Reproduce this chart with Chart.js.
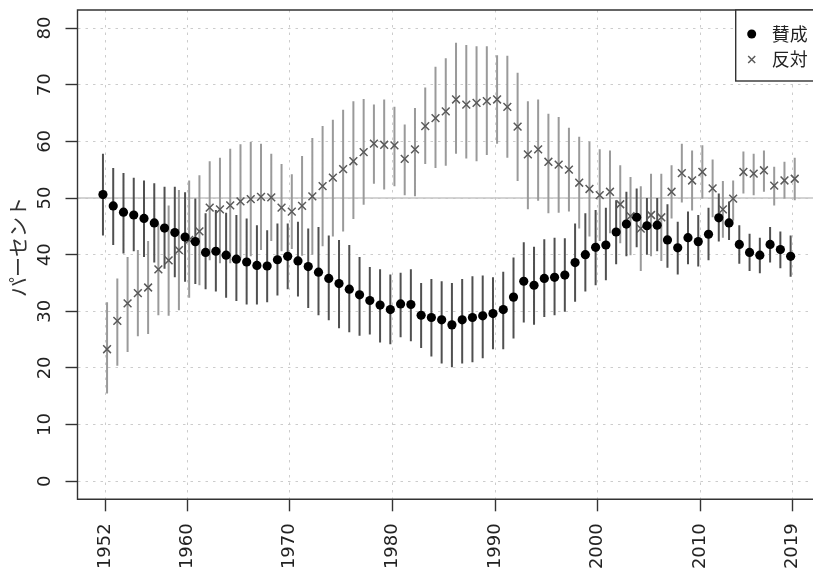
<!DOCTYPE html>
<html>
<head>
<meta charset="utf-8">
<script src="https://cdn.jsdelivr.net/npm/chart.js@4.4.1/dist/chart.umd.min.js"></script>
<style>
  html, body { margin: 0; padding: 0; background: #fff; overflow: hidden; }
  #wrap { position: absolute; left: 0; top: 0; width: 813px; height: 573px; }
</style>
</head>
<body>
<div id="wrap"><canvas id="chart" width="813" height="573"></canvas></div>
<script>
// データ(読み取り値)
const years = [1952, 1953, 1954, 1955, 1956, 1957, 1958, 1959, 1960, 1961,
    1962, 1963, 1964, 1965, 1966, 1967, 1968, 1969, 1970, 1971,
    1972, 1973, 1974, 1975, 1976, 1977, 1978, 1979, 1980, 1981,
    1982, 1983, 1984, 1985, 1986, 1987, 1988, 1989, 1990, 1991,
    1992, 1993, 1994, 1995, 1996, 1997, 1998, 1999, 2000, 2001,
    2002, 2003, 2004, 2005, 2006, 2007, 2008, 2009, 2010, 2011,
    2012, 2013, 2014, 2015, 2016, 2017, 2018, 2019];

const seriesNames = ['賛成', '反対'];
const yTitle = 'パーセント';

// 賛成
const sanseiVals = [50.6, 48.6, 47.5, 47.0, 46.4, 45.6, 44.7, 43.9, 43.1, 42.3,
    40.4, 40.6, 39.9, 39.2, 38.7, 38.1, 38.0, 39.1, 39.7, 38.9,
    37.9, 36.9, 35.8, 34.9, 33.9, 32.9, 31.9, 31.1, 30.3, 31.3,
    31.2, 29.3, 28.9, 28.5, 27.6, 28.5, 28.9, 29.2, 29.6, 30.3,
    32.5, 35.3, 34.6, 35.8, 36.0, 36.4, 38.6, 40.0, 41.3, 41.7,
    44.0, 45.4, 46.6, 45.1, 45.2, 42.6, 41.2, 43.0, 42.3, 43.6,
    46.5, 45.6, 41.8, 40.4, 39.9, 41.8, 40.9, 39.7];
const sanseiLow = [43.4, 41.7, 40.2, 40.6, 39.6, 38.6, 37.5, 36.0, 35.2, 34.8,
    33.9, 33.5, 32.4, 31.8, 31.2, 31.2, 31.6, 32.8, 33.9, 32.6,
    30.6, 29.3, 28.4, 27.0, 26.3, 25.7, 25.9, 24.5, 24.2, 25.4,
    24.7, 23.5, 22.0, 20.8, 20.1, 20.8, 21.0, 21.7, 23.3, 23.3,
    25.2, 28.0, 27.6, 29.0, 29.3, 29.9, 31.7, 33.5, 34.6, 35.5,
    38.3, 39.7, 41.3, 40.0, 40.6, 37.7, 36.5, 38.3, 37.9, 39.0,
    42.3, 42.6, 38.4, 37.1, 36.7, 38.6, 37.6, 36.1];
const sanseiHigh = [57.8, 55.3, 54.4, 53.6, 53.1, 52.6, 52.0, 52.0, 51.0, 49.9,
    47.3, 47.9, 47.4, 47.0, 46.4, 45.2, 44.3, 45.5, 45.5, 45.8,
    44.6, 44.9, 43.4, 42.6, 41.7, 39.6, 37.8, 37.4, 36.5, 36.8,
    37.4, 35.0, 35.7, 35.3, 35.0, 35.7, 36.2, 36.3, 36.0, 37.0,
    39.5, 42.2, 41.4, 42.7, 43.0, 42.9, 45.5, 47.3, 47.9, 48.3,
    49.6, 51.1, 51.7, 50.0, 50.0, 48.9, 45.8, 47.6, 47.0, 48.3,
    50.8, 49.4, 45.2, 43.7, 43.0, 44.9, 44.1, 43.4];

// 反対
const hantaiVals = [23.3, 28.3, 31.4, 33.2, 34.2, 37.4, 39.0, 40.8, 42.6, 44.1,
    48.3, 48.0, 48.7, 49.4, 49.8, 50.2, 50.1, 48.3, 47.6, 48.6,
    50.3, 52.1, 53.6, 55.1, 56.5, 58.1, 59.6, 59.4, 59.3, 56.9,
    58.6, 62.7, 64.1, 65.3, 67.4, 66.5, 66.8, 67.1, 67.4, 66.1,
    62.6, 57.7, 58.6, 56.4, 55.9, 55.0, 52.7, 51.6, 50.5, 51.1,
    48.9, 46.8, 44.6, 47.0, 46.6, 51.1, 54.4, 53.1, 54.6, 51.7,
    48.0, 49.9, 54.6, 54.3, 54.9, 52.2, 53.1, 53.4];
const hantaiLow = [15.5, 20.4, 22.8, 25.6, 26.0, 29.3, 29.2, 30.2, 32.4, 34.6,
    39.0, 38.5, 38.5, 39.3, 39.7, 40.8, 42.4, 40.6, 41.0, 39.8,
    40.0, 41.5, 43.2, 44.1, 46.3, 48.8, 52.5, 51.5, 52.1, 50.5,
    50.3, 56.0, 55.3, 55.7, 57.8, 57.0, 56.5, 57.6, 59.6, 57.1,
    53.0, 48.0, 49.5, 47.3, 47.4, 47.6, 44.6, 43.2, 42.4, 43.8,
    42.0, 39.9, 37.1, 39.7, 38.9, 46.4, 49.2, 47.8, 49.9, 46.6,
    43.0, 46.0, 50.8, 50.5, 51.1, 48.7, 49.9, 49.6];
const hantaiHigh = [31.6, 35.8, 39.6, 40.8, 42.4, 45.5, 48.7, 51.4, 53.1, 54.0,
    56.5, 57.1, 58.7, 59.5, 59.9, 59.6, 57.8, 56.0, 54.2, 57.4,
    60.6, 62.7, 63.8, 65.6, 67.1, 67.5, 66.5, 67.4, 66.1, 63.0,
    65.9, 69.5, 73.2, 74.7, 77.4, 77.0, 76.8, 76.8, 75.2, 75.1,
    72.1, 67.1, 67.4, 64.9, 64.3, 62.4, 60.8, 60.0, 58.6, 58.4,
    55.8, 53.7, 52.1, 54.3, 54.3, 55.8, 59.6, 58.4, 59.3, 56.8,
    53.0, 53.1, 58.2, 57.8, 58.4, 55.5, 56.4, 57.1];

const xTickVals = [1952, 1960, 1970, 1980, 1990, 2000, 2010, 2019];
const yTickVals = [0, 10, 20, 30, 40, 50, 60, 70, 80];
const refLine = 50;

// 表示用の設定
const OFFSET_SANSEI = -0.2;   // 点を少し左右にずらす
const OFFSET_HANTAI = 0.2;
const TICK_FONT = '18px "DejaVu Sans"';
const JP_FONT = '"Noto Sans CJK JP"';

function toPoints(vals, off) {
    return years.map((yr, i) => ({ x: yr + off, y: vals[i] }));
}

// エラーバー・目盛ラベル・凡例などを描くプラグイン
const decoPlugin = {
    id: 'deco',
    beforeDatasetsDraw(chart) {
        const { ctx, chartArea: a, scales: { x, y } } = chart;
        ctx.save();
        // 50% の基準線
        ctx.strokeStyle = '#c4c4c4';
        ctx.lineWidth = 1.5;
        ctx.beginPath();
        ctx.moveTo(a.left, y.getPixelForValue(refLine));
        ctx.lineTo(a.right, y.getPixelForValue(refLine));
        ctx.stroke();

        const bars = (lo, hi, off, color) => {
            ctx.strokeStyle = color;
            ctx.lineWidth = 2;
            ctx.beginPath();
            years.forEach((yr, i) => {
                const px = x.getPixelForValue(yr + off);
                ctx.moveTo(px, y.getPixelForValue(lo[i]));
                ctx.lineTo(px, y.getPixelForValue(hi[i]));
            });
            ctx.stroke();
        };
        bars(sanseiLow, sanseiHigh, OFFSET_SANSEI, '#505050');
        bars(hantaiLow, hantaiHigh, OFFSET_HANTAI, '#9a9a9a');
        ctx.restore();
    },
    afterDraw(chart) {
        const { ctx, chartArea: a, scales: { x, y } } = chart;
        ctx.save();
        // 枠(右辺はキャンバスの外)
        ctx.strokeStyle = '#333';
        ctx.lineWidth = 1.4;
        ctx.beginPath();
        ctx.moveTo(a.right + 5, a.top);
        ctx.lineTo(a.left, a.top);
        ctx.lineTo(a.left, a.bottom);
        ctx.lineTo(a.right + 5, a.bottom);
        ctx.stroke();

        // y 目盛ラベル(縦書き)
        ctx.fillStyle = '#222';
        ctx.font = TICK_FONT;
        yTickVals.forEach(v => {
            ctx.save();
            ctx.translate(45, y.getPixelForValue(v));
            ctx.rotate(-Math.PI / 2);
            ctx.textAlign = 'center';
            ctx.textBaseline = 'middle';
            ctx.fillText(String(v), 0, 0);
            ctx.restore();
        });
        // x 目盛ラベル
        xTickVals.forEach(v => {
            ctx.save();
            ctx.translate(x.getPixelForValue(v), a.bottom + 24);
            ctx.rotate(-Math.PI / 2);
            ctx.textAlign = 'right';
            ctx.textBaseline = 'middle';
            ctx.fillText(String(v), 0, 0);
            ctx.restore();
        });
        // y 軸タイトル
        ctx.save();
        ctx.font = '20px ' + JP_FONT;
        ctx.fillStyle = '#333';
        ctx.translate(18, 247);
        ctx.rotate(-Math.PI / 2);
        ctx.textAlign = 'center';
        ctx.textBaseline = 'middle';
        ctx.fillText(yTitle, 0, 0);
        ctx.restore();

        // 凡例(右上、右端は切れている)
        const lx = 735.7;
        const lb = 81;
        ctx.fillStyle = '#fff';
        ctx.fillRect(lx, a.top, a.right - lx + 20, lb - a.top);
        ctx.strokeStyle = '#333';
        ctx.lineWidth = 1.4;
        ctx.strokeRect(lx, a.top, a.right - lx + 20, lb - a.top);

        const sx = lx + 16;
        ctx.fillStyle = '#000';
        ctx.beginPath();
        ctx.arc(sx, 34, 4.5, 0, Math.PI * 2);
        ctx.fill();
        ctx.strokeStyle = '#5a5a5a';
        ctx.lineWidth = 1.5;
        ctx.beginPath();
        ctx.moveTo(sx - 3.5, 59.5 - 3.5); ctx.lineTo(sx + 3.5, 59.5 + 3.5);
        ctx.moveTo(sx - 3.5, 59.5 + 3.5); ctx.lineTo(sx + 3.5, 59.5 - 3.5);
        ctx.stroke();

        ctx.fillStyle = '#222';
        ctx.font = '18px ' + JP_FONT;
        ctx.textAlign = 'left';
        ctx.textBaseline = 'middle';
        ctx.fillText(seriesNames[0], lx + 36, 34);
        ctx.fillText(seriesNames[1], lx + 36, 59.5);
        ctx.restore();
    }
};

const gridOpts = {
    color: '#cccccc',
    lineWidth: 1,
    drawTicks: true,
    tickLength: 12,
    tickColor: '#333',
    tickWidth: 1.4,
    tickBorderDash: []
};

const ctx = document.getElementById('chart').getContext('2d');
const chart = new Chart(ctx, {
    type: 'scatter',
    data: {
        datasets: [{
            label: seriesNames[0],
            data: toPoints(sanseiVals, OFFSET_SANSEI),
            pointStyle: 'circle',
            pointRadius: 4.6,
            pointBackgroundColor: '#000',
            pointBorderWidth: 0,
            showLine: false
        }, {
            label: seriesNames[1],
            data: toPoints(hantaiVals, OFFSET_HANTAI),
            pointStyle: 'crossRot',
            pointRadius: 5.5,
            pointBorderColor: '#5a5a5a',
            pointBorderWidth: 1.5,
            showLine: false
        }]
    },
    options: {
        responsive: false,
        animation: false,
        layout: { autoPadding: false, padding: { left: 0, right: 0, top: 10, bottom: 0 } },
        plugins: {
            legend: { display: false },
            tooltip: { enabled: false }
        },
        scales: {
            x: {
                type: 'linear',
                min: 1949.32,
                max: 2020.98,   // 元図では右端がキャンバスで切れている
                afterBuildTicks: s => { s.ticks = xTickVals.map(v => ({ value: v })); },
                afterFit: s => { s.height = 73.7; },
                ticks: { display: false },
                grid: gridOpts,
                border: { display: false, dash: [2.5, 5] }
            },
            y: {
                type: 'linear',
                min: -3.2,
                max: 83.2,
                afterBuildTicks: s => { s.ticks = yTickVals.map(v => ({ value: v })); },
                afterFit: s => { s.width = 77.5; },
                ticks: { display: false },
                grid: gridOpts,
                border: { display: false, dash: [2.5, 5] }
            }
        }
    },
    plugins: [decoPlugin]
});
</script>
</body>
</html>
